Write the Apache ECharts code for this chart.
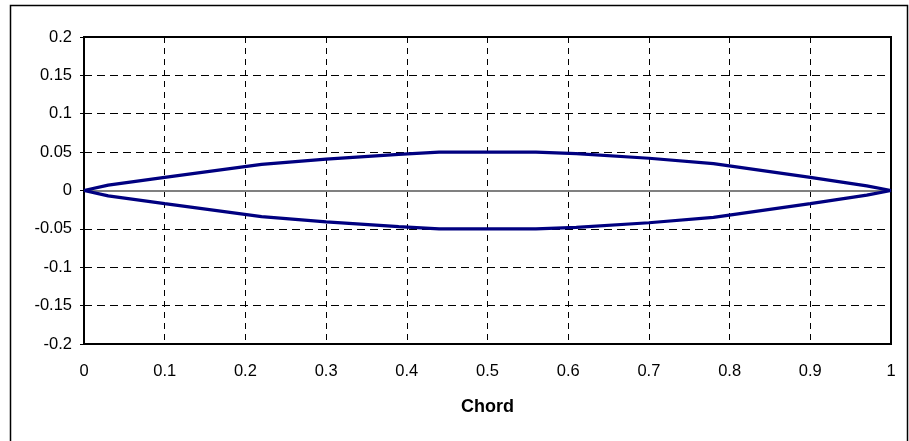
<!DOCTYPE html>
<html>
<head>
<meta charset="utf-8">
<script src="https://cdn.jsdelivr.net/npm/echarts@6/dist/echarts.min.js"></script>
<style>
html,body{margin:0;padding:0;background:#fff;}
#chart{width:909px;height:441px;}
</style>
</head>
<body>
<div id="chart"></div>
<script>
var chordX = [0, 0.03, 0.1, 0.22, 0.3, 0.39, 0.44, 0.56, 0.61, 0.7, 0.78, 0.9, 0.97, 1];
var upperY = [0, 0.007, 0.017, 0.034, 0.041, 0.047, 0.05, 0.05, 0.048, 0.042, 0.035, 0.017, 0.006, 0];
var lowerY = [0, -0.007, -0.017, -0.034, -0.041, -0.047, -0.05, -0.05, -0.048, -0.042, -0.035, -0.017, -0.006, 0];
var xAxisTitle = 'Chord';

function pairs(xs, ys) { return xs.map(function (x, i) { return [x, ys[i]]; }); }

var chart = echarts.init(document.getElementById('chart'), null, {renderer: 'canvas'});
var font = 'Liberation Sans, Arial, sans-serif';
chart.setOption({
  animation: false,
  backgroundColor: '#fff',
  graphic: [{
    type: 'rect', left: 8, top: 3,
    shape: {width: 897, height: 445},
    style: {fill: 'none', stroke: '#000', lineWidth: 1.5},
    z: -1
  }],
  grid: {left: 84, top: 37, right: 18, bottom: 97, show: true, borderColor: '#000', borderWidth: 2, backgroundColor: 'transparent'},
  xAxis: {
    type: 'value', min: 0, max: 1, interval: 0.1,
    name: xAxisTitle, nameLocation: 'middle', nameGap: 54,
    nameTextStyle: {fontFamily: font, fontSize: 18, fontWeight: 'bold', color: '#000'},
    axisLine: {show: true, onZero: false, lineStyle: {color: '#000', width: 2}},
    axisTick: {show: false},
    axisLabel: {fontFamily: font, fontSize: 16.5, color: '#000', margin: 19},
    splitLine: {show: true, lineStyle: {color: '#000', type: [6, 5], width: 1}}
  },
  yAxis: {
    type: 'value', min: -0.2, max: 0.2, interval: 0.05,
    axisLine: {show: true, onZero: false, lineStyle: {color: '#000', width: 2}},
    axisTick: {show: true, length: 4, lineStyle: {color: '#000', width: 1}},
    axisLabel: {fontFamily: font, fontSize: 16.5, color: '#000', margin: 12},
    splitLine: {show: true, lineStyle: {color: '#000', type: [8, 5], width: 1}}
  },
  series: [
    {
      type: 'line', name: 'Upper', data: pairs(chordX, upperY), showSymbol: false, symbol: 'none',
      lineStyle: {color: '#000080', width: 3.2}, z: 5,
      markLine: {
        silent: true, symbol: 'none', label: {show: false},
        lineStyle: {color: '#808080', type: 'solid', width: 2},
        data: [{yAxis: 0}]
      }
    },
    {
      type: 'line', name: 'Lower', data: pairs(chordX, lowerY), showSymbol: false, symbol: 'none',
      lineStyle: {color: '#000080', width: 3.2}, z: 5
    }
  ]
});
</script>
</body>
</html>
